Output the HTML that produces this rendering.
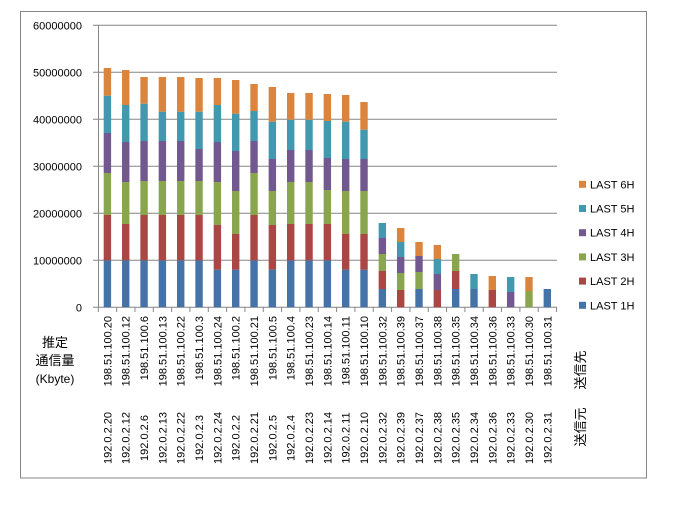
<!DOCTYPE html>
<html><head><meta charset="utf-8"><style>
body{margin:0;background:#fff;}
svg text{font-family:"Liberation Sans","Noto Sans CJK JP",sans-serif;font-size:11px;fill:#000;}
</style></head><body>
<svg id="c" width="680" height="500" xmlns="http://www.w3.org/2000/svg">
<rect x="20.5" y="11.5" width="626" height="466.5" fill="#fff" stroke="#868686"/>
<g id="grid"></g>
<g id="bars"></g>
<g id="lab"></g>
<text x="55" y="347" text-anchor="middle" style="font-size:13px">推定</text>
<text x="55" y="365" text-anchor="middle" style="font-size:13px">通信量</text>
<text x="55" y="383" text-anchor="middle" style="font-size:12px">(Kbyte)</text>
<text transform="translate(585,370) rotate(-90)" text-anchor="middle" style="font-size:13px">送信先</text>
<text transform="translate(585,427) rotate(-90)" text-anchor="middle" style="font-size:13px">送信元</text>
<g id="leg"></g>
</svg>
<script>
var NS="http://www.w3.org/2000/svg";
function el(p,t,a,txt){var e=document.createElementNS(NS,t);for(var k in a)e.setAttribute(k,a[k]);if(txt!=null)e.textContent=txt;document.getElementById(p).appendChild(e);return e;}
var col=["#4572A7","#AA4643","#89A54E","#71588F","#4198AF","#DB843D"];
var y0=307.3;
for(var i=0;i<=6;i++){var y=y0-i*47;
 el("grid","line",{x1:93,x2:557,y1:y,y2:y,stroke:"#868686","stroke-width":1});
 el("lab","text",{x:82,y:y+4,"text-anchor":"end"},String(i*10000000));}
el("grid","line",{x1:98.5,x2:98.5,y1:25,y2:307.3,stroke:"#868686"});
for(var i=0;i<=25;i++){var x=98.3+i*18.33;el("grid","line",{x1:x,x2:x,y1:307.3,y2:312,stroke:"#868686"});}
var B=[
[[0,601],[1,465],[2,339],[3,219],[4,107],[5,24]],
[[0,601],[1,492],[2,366],[3,246],[4,135],[5,30]],
[[0,601],[1,465],[2,363],[3,243],[4,131],[5,51]],
[[0,601],[1,465],[2,363],[3,243],[4,155],[5,51]],
[[0,601],[1,465],[2,363],[3,243],[4,155],[5,51]],
[[0,601],[1,465],[2,363],[3,267],[4,155],[5,54]],
[[0,629],[1,495],[2,366],[3,246],[4,135],[5,54]],
[[0,629],[1,522],[2,393],[3,273],[4,161],[5,60]],
[[0,601],[1,465],[2,339],[3,243],[4,153],[5,72]],
[[0,629],[1,495],[2,393],[3,297],[4,185],[5,81]],
[[0,601],[1,492],[2,366],[3,270],[4,179],[5,99]],
[[0,601],[1,492],[2,366],[3,270],[4,179],[5,99]],
[[0,601],[1,492],[2,390],[3,294],[4,183],[5,102]],
[[0,629],[1,522],[2,393],[3,297],[4,185],[5,105]],
[[0,629],[1,522],[2,393],[3,297],[4,209],[5,126]],
[[0,687],[1,633],[2,582],[3,534],[4,489]],
[[1,690],[2,639],[3,591],[4,546],[5,504]],
[[0,687],[2,636],[3,588],[5,546]],
[[1,690],[3,642],[4,597],[5,555]],
[[0,687],[1,633],[2,582]],
[[0,687],[4,642]],
[[1,690],[5,648]],
[[3,696],[4,651]],
[[2,693],[5,651]],
[[0,687]]];
var dst=["20","12","6","13","22","3","24","2","21","5","4","23","14","11","10","32","39","37","38","35","34","36","33","30","31"];
for(var i=0;i<25;i++){var x=103.7+i*18.33;var prev=y0;
 B[i].forEach(function(s){var y=60+s[1]/3;el("bars","rect",{x:x,y:y,width:7.4,height:prev-y,fill:col[s[0]]});prev=y;});
 var cx=x+3.7+4;
 el("lab","text",{transform:"translate("+cx+",316) rotate(-90)","text-anchor":"end"},"198.51.100."+dst[i]);
 el("lab","text",{transform:"translate("+cx+",438) rotate(-90)","text-anchor":"middle"},"192.0.2."+dst[i]);}
var ln=["LAST 6H","LAST 5H","LAST 4H","LAST 3H","LAST 2H","LAST 1H"];
for(var j=0;j<6;j++){var y=184.3+j*24.2;
 el("leg","rect",{x:579,y:y-3.5,width:7,height:7,fill:col[5-j]});
 el("leg","text",{x:590,y:y+4},ln[j]);}
</script>
</body></html>
